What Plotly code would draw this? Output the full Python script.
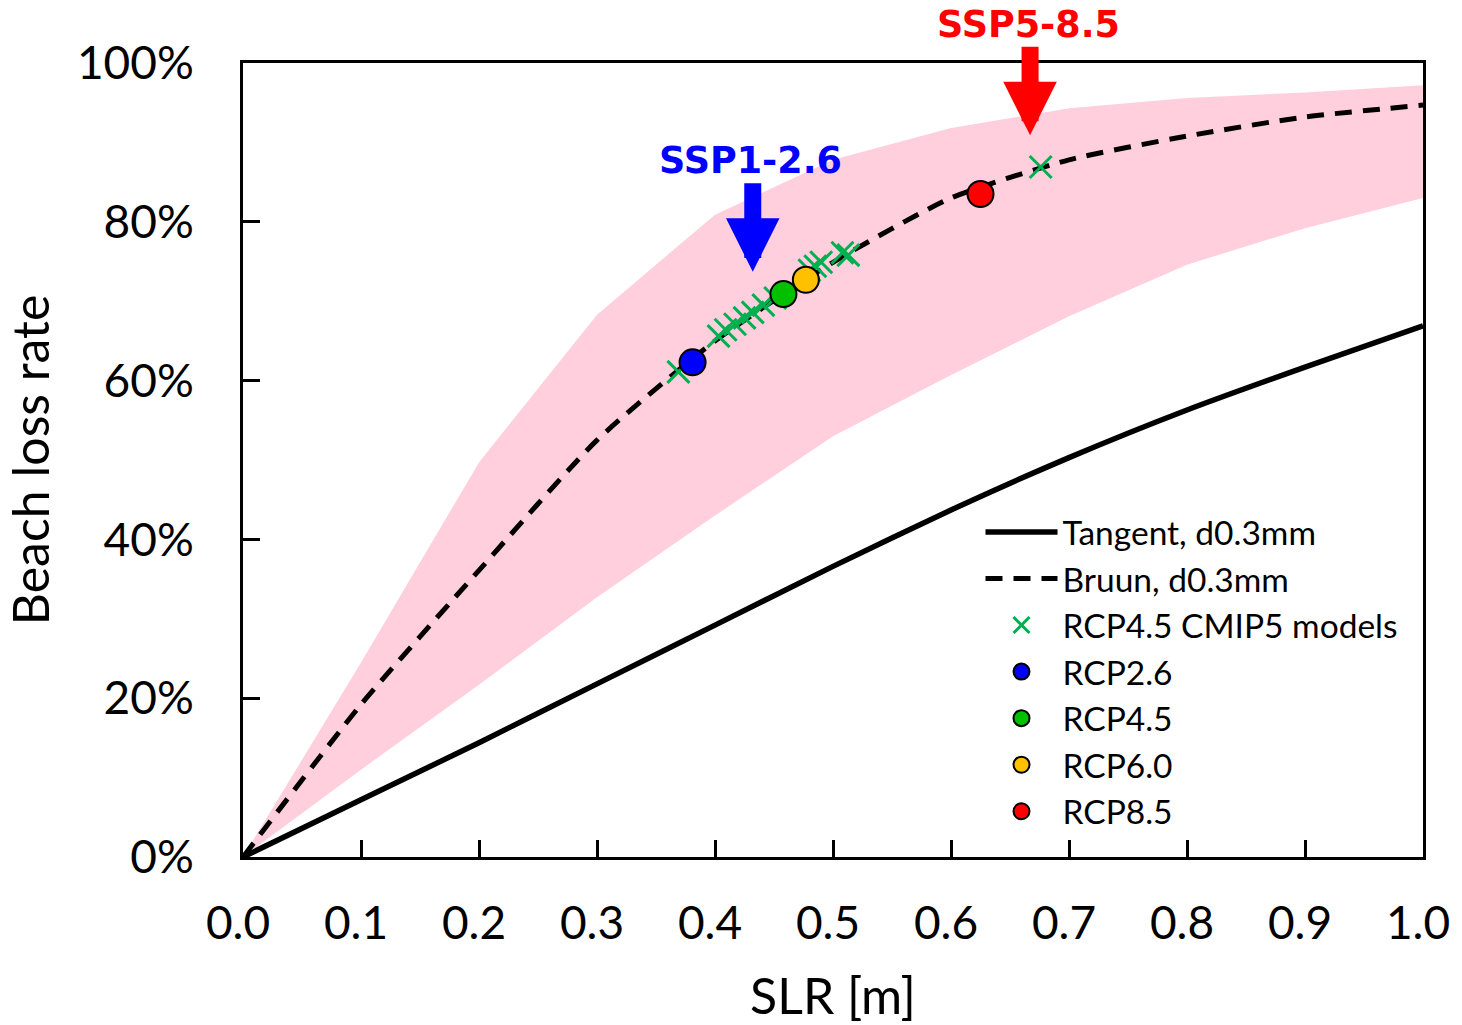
import plotly.graph_objects as go

slr = [0.0, 0.1, 0.2, 0.3, 0.4, 0.5, 0.6, 0.7, 0.8, 0.9, 1.0]
tangent = [0.0, 0.072, 0.144, 0.218, 0.292, 0.366, 0.437, 0.503, 0.563, 0.617, 0.669]
bruun = [0.0, 0.192, 0.361, 0.525, 0.650, 0.749, 0.830, 0.878, 0.908, 0.932, 0.947]
band_upper = [0.0, 0.245, 0.497, 0.683, 0.809, 0.878, 0.918, 0.943, 0.956, 0.963, 0.972]
band_lower = [0.0, 0.11, 0.217, 0.327, 0.430, 0.530, 0.607, 0.681, 0.746, 0.792, 0.830]

cmip5_slr = [0.369, 0.403, 0.409, 0.417, 0.425, 0.432, 0.441, 0.451, 0.480, 0.485, 0.490, 0.508, 0.513, 0.676]
cmip5_loss = [0.611, 0.656, 0.664, 0.671, 0.679, 0.686, 0.695, 0.704, 0.739, 0.744, 0.749, 0.761, 0.758, 0.869]

rcp_names = ["RCP2.6", "RCP4.5", "RCP6.0", "RCP8.5"]
rcp_slr = [0.381, 0.458, 0.477, 0.625]
rcp_loss = [0.623, 0.709, 0.727, 0.835]
rcp_colors = ["#0000FF", "#00C000", "#FFC000", "#FF0000"]

ssp_labels = ["SSP1-2.6", "SSP5-8.5"]
ssp_x = [0.432, 0.667]
ssp_y = [0.737, 0.909]
ssp_colors = ["#0000FF", "#FF0000"]

FONT = "Lato"
fig = go.Figure()

fig.add_trace(go.Scatter(x=slr, y=band_lower, mode="lines", line=dict(width=0),
                         showlegend=False, hoverinfo="skip"))
fig.add_trace(go.Scatter(x=slr, y=band_upper, mode="lines", line=dict(width=0),
                         fill="tonexty", fillcolor="rgb(255,207,222)",
                         showlegend=False, hoverinfo="skip"))
fig.add_trace(go.Scatter(x=slr, y=tangent, mode="lines", name="Tangent, d0.3mm",
                         line=dict(color="black", width=5.5, shape="spline", smoothing=0.6)))
fig.add_trace(go.Scatter(x=slr, y=bruun, mode="lines", name="Bruun, d0.3mm",
                         line=dict(color="black", width=5, dash="17px,11px",
                                   shape="spline", smoothing=0.6)))
fig.add_trace(go.Scatter(x=cmip5_slr, y=cmip5_loss, mode="markers", name="RCP4.5 CMIP5 models",
                         marker=dict(symbol="x-thin", size=22, color="#00B050",
                                     line=dict(width=3, color="#00B050"))))
for n, xs, ys, c in zip(rcp_names, rcp_slr, rcp_loss, rcp_colors):
    fig.add_trace(go.Scatter(x=[xs], y=[ys], mode="markers", name=n,
                             marker=dict(symbol="circle", size=26, color=c,
                                         line=dict(width=2, color="black"))))

for lab, xs, ys, c in zip(ssp_labels, ssp_x, ssp_y, ssp_colors):
    fig.add_annotation(x=xs, y=ys, xref="x", yref="y", text="", showarrow=True,
                       arrowhead=2, arrowsize=0.63, arrowwidth=17, arrowcolor=c,
                       ax=0, ay=-90)
    fig.add_annotation(x=xs, y=ys, xref="x", yref="y", text="<b>%s</b>" % lab,
                       showarrow=False, yshift=111, xshift=-2,
                       font=dict(family="DejaVu Sans", size=36.5, color=c))

axis_common = dict(showline=True, linecolor="black", linewidth=3, mirror=True,
                   showgrid=False, zeroline=False, ticks="inside", ticklen=17,
                   tickwidth=3, tickcolor="black", automargin=False,
                   tickfont=dict(family=FONT, size=46, color="black"))

fig.update_xaxes(range=[0, 1.0], dtick=0.1, tick0=0, tickformat=".1f",
                 ticklabelstandoff=24, ticklabelshift=-5,
                 title=dict(text="SLR [m]", font=dict(family=FONT, size=50, color="black"),
                            standoff=33),
                 **axis_common)
fig.update_yaxes(range=[0, 1.0], dtick=0.2, tick0=0, tickformat=".0%",
                 ticklabelstandoff=37,
                 title=dict(text="Beach loss rate", font=dict(family=FONT, size=50, color="black"),
                            standoff=24),
                 **axis_common)

fig.update_layout(
    width=1462, height=1025,
    margin=dict(l=243, r=39, t=63, b=168),
    plot_bgcolor="white", paper_bgcolor="white",
    legend=dict(x=0.625, y=0.445, xanchor="left", yanchor="top", traceorder="normal",
                bgcolor="rgba(0,0,0,0)", font=dict(family=FONT, size=33.5, color="black"),
                tracegroupgap=0, itemwidth=72),
    showlegend=True,
)

fig.write_html("out.html", config={"displayModeBar": False},
               post_script="document.body.style.margin='0';document.body.style.overflow='hidden';")
